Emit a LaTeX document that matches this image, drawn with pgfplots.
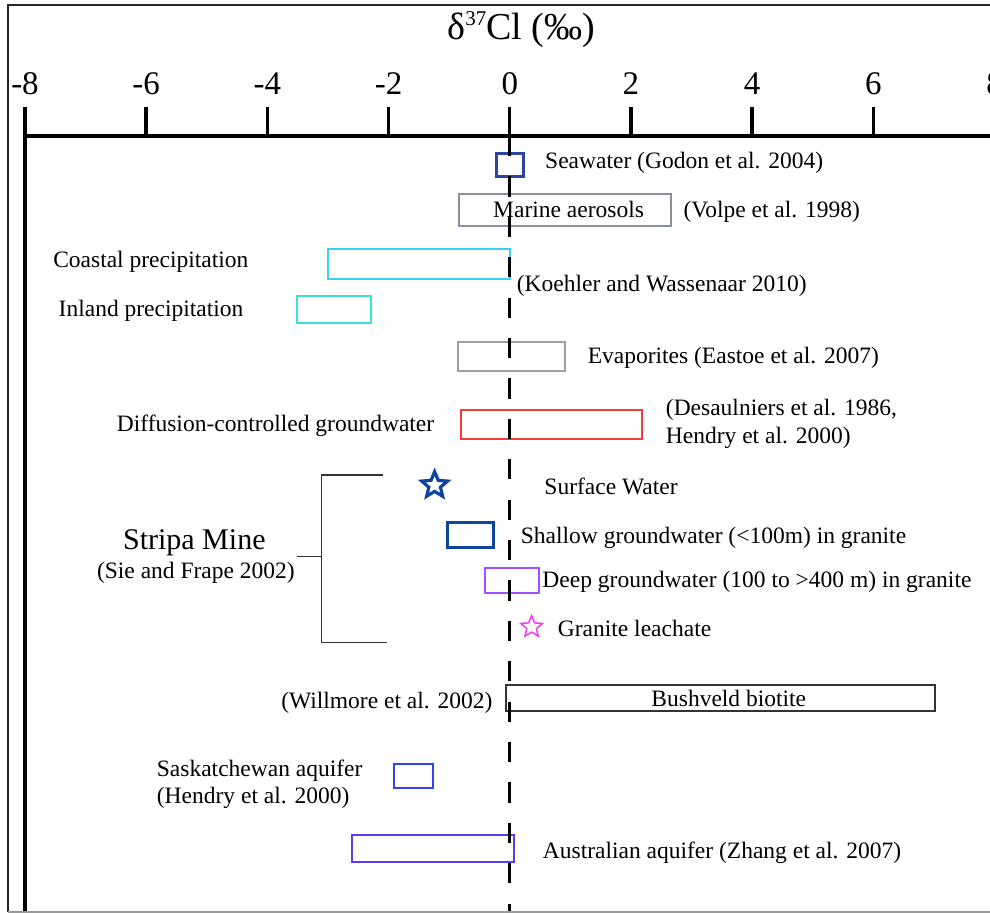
\documentclass[border=0pt]{standalone}
\usepackage{pgfplots}
\pgfplotsset{compat=1.18}
\usepackage{fontspec}
\setmainfont{Liberation Serif}

\definecolor{seablue}{HTML}{2B45A0}
\definecolor{darkblue}{HTML}{0D44A0}
\definecolor{aerosol}{HTML}{8A90A0}
\definecolor{coastal}{HTML}{3CCFF5}
\definecolor{inland}{HTML}{3DE0D6}
\definecolor{evap}{HTML}{A0A0A0}
\definecolor{diffred}{HTML}{F53A3A}
\definecolor{deeppurple}{HTML}{A64DFF}
\definecolor{leachate}{HTML}{F23CF2}
\definecolor{biotite}{HTML}{333333}
\definecolor{sask}{HTML}{3344EE}
\definecolor{austr}{HTML}{5B3BF0}

% outlined five-pointed star used for single measurements
\pgfdeclareplotmark{ostar}{%
  \pgfmathsetlengthmacro\ri{0.45*\pgfplotmarksize}%
  \pgfpathmoveto{\pgfpointpolar{90}{\pgfplotmarksize}}%
  \pgfpathlineto{\pgfpointpolar{126}{\ri}}%
  \pgfpathlineto{\pgfpointpolar{162}{\pgfplotmarksize}}%
  \pgfpathlineto{\pgfpointpolar{198}{\ri}}%
  \pgfpathlineto{\pgfpointpolar{234}{\pgfplotmarksize}}%
  \pgfpathlineto{\pgfpointpolar{270}{\ri}}%
  \pgfpathlineto{\pgfpointpolar{306}{\pgfplotmarksize}}%
  \pgfpathlineto{\pgfpointpolar{342}{\ri}}%
  \pgfpathlineto{\pgfpointpolar{18}{\pgfplotmarksize}}%
  \pgfpathlineto{\pgfpointpolar{54}{\ri}}%
  \pgfpathclose
  \pgfusepathqstroke
}

\tikzset{lbl/.style={font=\fontsize{11.75}{14}\selectfont, inner sep=0pt}}

\begin{document}
\begin{tikzpicture}
\begin{axis}[
  name=ax,
  scale only axis,
  width=484.8pt, height=388.5pt,
  xmin=-8, xmax=8, ymin=0, ymax=777,
  axis x line*=top, axis y line*=left,
  axis line style={line width=1.7pt, -},
  xtick={-8,-6,...,8},
  xticklabels={-8,-6,-4,-2,0,2,4,6,8},
  ytick=\empty,
  tick align=outside,
  major tick length=14.5pt,
  tick style={line width=1.7pt, black},
  xticklabel style={font=\fontsize{16.5}{16.5}\selectfont, anchor=base, yshift=6pt},
  clip=false,
]
% ranges of delta37Cl for each reservoir (x: permil, y: vertical row position)
\addplot[seablue, line width=1.5pt] coordinates {(-0.22,736.2) (0.22,736.2) (0.22,759.8) (-0.22,759.8)} -- cycle;
\addplot[aerosol, line width=1pt] coordinates {(-0.84,687) (2.66,687) (2.66,719) (-0.84,719)} -- cycle;
\addplot[coastal, line width=1pt] coordinates {(-3.00,634) (0,634) (0,664) (-3.00,664)} -- cycle;
\addplot[inland, line width=1pt] coordinates {(-3.51,590) (-2.29,590) (-2.29,617) (-3.51,617)} -- cycle;
\addplot[evap, line width=1pt] coordinates {(-0.86,541.5) (0.91,541.5) (0.91,570.5) (-0.86,570.5)} -- cycle;
\addplot[diffred, line width=1pt] coordinates {(-0.81,474) (2.18,474) (2.18,503) (-0.81,503)} -- cycle;
\addplot[darkblue, line width=1.5pt] coordinates {(-1.03,365.5) (-0.27,365.5) (-0.27,390) (-1.03,390)} -- cycle;
\addplot[deeppurple, line width=1pt] coordinates {(-0.41,320) (0.48,320) (0.48,345) (-0.41,345)} -- cycle;
\addplot[biotite, line width=1pt] coordinates {(-0.07,201.7) (7.01,201.7) (7.01,227.7) (-0.07,227.7)} -- cycle;
\addplot[sask, line width=1pt] coordinates {(-1.91,125) (-1.27,125) (-1.27,149.3) (-1.91,149.3)} -- cycle;
\addplot[austr, line width=1pt] coordinates {(-2.60,50.7) (0.07,50.7) (0.07,78) (-2.60,78)} -- cycle;

% single values
\addplot[only marks, mark=ostar, mark size=6.8pt, darkblue, line width=1.6pt] coordinates {(-1.24,427.7)};
\addplot[only marks, mark=ostar, mark size=5.65pt, leachate, line width=0.75pt] coordinates {(0.36,286)};

% zero reference line
\addplot[black, line width=1.5pt, dash pattern=on 10.1pt off 10.1pt] coordinates {(0,777) (0,0)};

% Stripa Mine bracket
\draw[black!80, line width=0.75pt] (-2.096,438) -- (-3.107,438) -- (-3.107,270.3) -- (-2.03,270.3);
\draw[black!80, line width=0.75pt] (-3.515,356.3) -- (-3.107,356.3);

% labels
\node[font=\fontsize{19}{19}\selectfont, anchor=base, inner sep=0pt] at (0.19,873)
  {δ\raisebox{7pt}{\fontsize{10.5}{10.5}\selectfont 37}Cl (‰)};
\node[lbl, anchor=base west] at (0.578,744) {Seawater (Godon et al. 2004)};
\node[lbl, anchor=base west] at (-0.28,695) {Marine aerosols};
\node[lbl, anchor=base west] at (2.86,695) {(Volpe et al. 1998)};
\node[lbl, anchor=base west] at (-7.54,645) {Coastal precipitation};
\node[lbl, anchor=base west] at (-7.45,596.3) {Inland precipitation};
\node[lbl, anchor=base west] at (0.11,621.3) {(Koehler and Wassenaar 2010)};
\node[lbl, anchor=base west] at (1.28,549) {Evaporites (Eastoe et al. 2007)};
\node[lbl, anchor=base east] at (-1.24,481.3) {Diffusion-controlled groundwater};
\node[lbl, anchor=base west] at (2.57,497) {(Desaulniers et al. 1986,};
\node[lbl, anchor=base west] at (2.57,469) {Hendry et al. 2000)};
\node[lbl, anchor=base west] at (0.566,418) {Surface Water};
\node[lbl, anchor=base west] at (0.177,369.7) {Shallow groundwater (<100m) in granite};
\node[lbl, anchor=base west] at (0.533,325.7) {Deep groundwater (100 to >400 m) in granite};
\node[lbl, anchor=base west] at (0.787,276.3) {Granite leachate};
\node[font=\fontsize{15}{15}\selectfont, inner sep=0pt, anchor=base] at (-5.206,363) {Stripa Mine};
\node[lbl, anchor=base] at (-5.18,334.7) {(Sie and Frape 2002)};
\node[lbl, anchor=base east] at (-0.28,204.7) {(Willmore et al. 2002)};
\node[lbl, anchor=base] at (3.614,206.3) {Bushveld biotite};
\node[lbl, anchor=base west] at (-5.83,136.3) {Saskatchewan aquifer};
\node[lbl, anchor=base west] at (-5.83,109) {(Hendry et al. 2000)};
\node[lbl, anchor=base west] at (0.54,54) {Australian aquifer (Zhang et al. 2007)};
\end{axis}
% outer frame
\draw[line width=0.9pt, black!85] ([xshift=-8.5pt,yshift=0.6pt]ax.south west) -- ++(0,453.4pt) -- ++(495pt,0);
\draw[line width=0.8pt, black!40] ([xshift=-8.5pt,yshift=0.6pt]ax.south west) -- ++(495pt,0);
\pgfresetboundingbox
\path[use as bounding box] (ax.south west) ++(-12.5pt,0pt) rectangle ++(495pt,456.5pt);
\end{tikzpicture}
\end{document}
